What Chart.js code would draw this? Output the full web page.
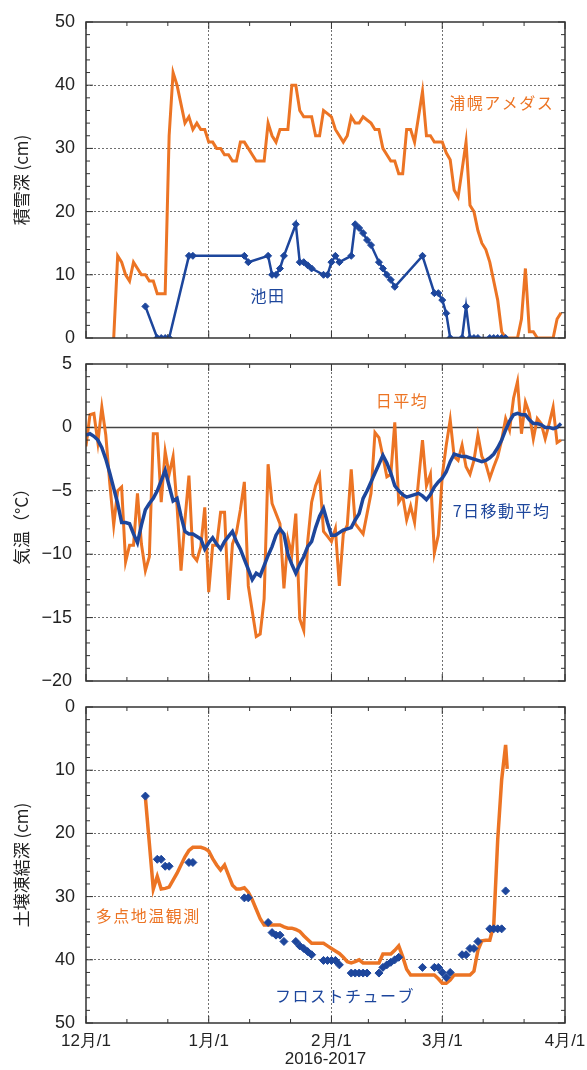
<!DOCTYPE html>
<html>
<head>
<meta charset="utf-8">
<script src="https://cdn.jsdelivr.net/npm/chart.js@4.4.1/dist/chart.umd.min.js"></script>
<style>
  html, body { margin: 0; padding: 0; background: #fff; }
  #wrap { position: relative; width: 587px; height: 1070px; }
  .panel { position: absolute; left: 0; width: 587px; }
</style>
</head>
<body>
<div id="wrap">
  <div class="panel" style="top:0;height:350px"><canvas id="snowChart"></canvas></div>
  <div class="panel" style="top:350px;height:345px"><canvas id="tempChart"></canvas></div>
  <div class="panel" style="top:695px;height:375px"><canvas id="frostChart"></canvas></div>
</div>
<script>
// x axis = days since 2016-12-01
const monthStarts = [0, 31, 62, 90, 121];
const monthLabels = ['12月/1', '1月/1', '2月/1', '3月/1', '4月/1'];

// 積雪深 (cm) 浦幌アメダス, one value per day (index = day)
const snowUrahoro = [
  null, null, null, null, null, null, null, 0, 13, 12,
  10, 9, 12, 11, 10, 10, 9, 9, 7, 7,
  7, 32, 42, 40, 37, 34, 35, 33, 34, 33,
  33, 31, 31, 30, 30, 29, 29, 28, 28, 31,
  31, 30, 29, 28, 28, 28, 34, 32, 31, 33,
  33, 33, 40, 40, 36, 35, 35, 35, 32, 32,
  36, 35.5, 35, 33, 32, 31, 32, 35, 34, 34,
  35, 34.5, 34, 33, 33, 30, 29, 28, 28, 26,
  26, 33, 33, 31, 35, 39, 32, 32, 31, 31,
  31, 29.3, 28.2, 23.4, 22.3, 26.6, 31, 21, 20, 17,
  15, 14, 12, 9, 6, 1, 0, 0, 0, 0,
  3, 11, 1, 1, 0, 0, 0, 0, 0, 3,
  4
];

// 積雪深 (cm) 池田
const ikedaDays = [15, 18, 19, 20, 21, 26, 27, 40, 41, 46, 47, 48, 49, 50, 53, 54, 55, 56, 57,
  60, 61, 62, 63, 64, 67, 68, 69, 70, 71, 72, 74, 75, 76, 77, 78, 85, 88, 89, 90, 91, 92,
  95, 96, 97, 98, 99, 102, 103, 104, 105, 106];
const ikedaSnow = [5, 0, 0, 0, 0, 13, 13, 13, 12, 13, 10, 10, 11, 13, 18, 12, 12, 11.5, 11,
  10, 10, 12, 13, 12, 13, 18, 17.4, 16.6, 15.5, 14.7, 12, 11, 10, 9.2, 8.1, 13, 7.1, 7.1, 6, 3.9, 0,
  0, 5, 0, 0, 0, 0, 0, 0, 0, 0];

// 気温 (°C) 日平均, one value per day
const tempDaily = [
  -1.5, 1.0, 1.1, -1.2, 1.6, -0.6, -4.4, -7.7, -5.0, -4.7,
  -10.6, -9.3, -9.3, -5.2, -9.2, -11.3, -10.2, -0.5, -0.5, -5.9,
  -1.9, -3.7, -2.3, -6.2, -11.3, -7.3, -3.8, -10.1, -10.5, -9.4,
  -6.3, -13.0, -9.3, -9.3, -6.7, -6.7, -13.6, -9.2, -8.3, -6.5,
  -4.3, -12.5, -14.5, -16.5, -16.3, -13.5, -2.9, -6.0, -6.8, -7.6,
  -12.7, -8.8, -10.0, -6.8, -15.1, -16.0, -9.0, -5.9, -4.6, -3.8,
  -8.2, -8.6, -9.0, -8.0, -12.5, -8.4, -7.7, -3.3, -7.6, -8.0,
  -8.4, -6.8, -5.2, -0.4, -0.8, -2.3, -3.9, -3.7, 0.4, -5.9,
  -5.4, -7.3, -6.2, -7.5, -4.2, -1.0, -4.6, -3.7, -9.9, -8.5,
  -3.8, -1.4, 0.6, -2.3, -2.6, -1.4, -3.1, -3.7, -2.6, -0.6,
  -2.3, -2.9, -4.0, -3.1, -2.3, -1.0, 0.7, -0.2, 2.3, 3.6,
  -0.5, 2.0, 1.1, -0.9, 0.7, 0.3, -0.9, 0.3, 1.6, -1.2,
  -1.0
];

// 気温 (°C) 7日移動平均
const temp7day = [
  -0.6, -0.5, -0.7, -1.0, -1.6, -2.5, -3.6, -4.8, -6.0, -7.5,
  -7.5, -7.6, -8.4, -9.1, -7.7, -6.5, -6.0, -5.6, -5.0, -4.2,
  -3.4, -4.6, -5.8, -5.6, -7.0, -8.2, -8.4, -8.4, -8.6, -8.8,
  -9.6, -9.1, -8.7, -9.2, -9.6, -9.0, -8.6, -8.2, -9.0, -9.6,
  -10.4, -11.2, -12.0, -11.5, -11.7, -10.9, -10.1, -9.4, -8.5, -8.0,
  -8.4, -10.0, -10.8, -11.5, -10.8, -10.2, -9.4, -9.0, -7.9, -7.0,
  -6.4, -7.5, -8.5, -8.5, -8.3, -8.1, -8.0, -7.9, -7.3, -6.8,
  -5.6, -5.0, -4.3, -3.6, -2.9, -2.2, -2.8, -3.6, -4.6, -5.0,
  -5.3, -5.5, -5.4, -5.3, -5.2, -5.4, -5.7, -5.3, -4.7, -4.3,
  -4.0, -3.5, -2.7, -2.1, -2.2, -2.3, -2.3, -2.4, -2.5, -2.6,
  -2.7, -2.6, -2.4, -2.1, -1.6, -1.0, -0.2, 0.5, 1.0, 1.1,
  1.0, 1.0, 0.6, 0.3, 0.3, 0.2, 0.0, 0.0, -0.1, 0.0,
  0.3
];

// 土壌凍結深 (cm) 多点地温観測
const soilDays = [15, 17, 18, 19, 20, 21, 22, 23, 24, 25, 26, 27, 28, 29, 30, 31, 32, 33, 34, 35,
  36, 37, 38, 39, 40, 41, 42, 43, 44, 45, 46, 47, 48, 49, 50, 51, 52, 53, 54, 55,
  56, 57, 58, 59, 60, 61, 62, 63, 64, 65, 66, 67, 68, 69, 70, 71, 72, 73, 74, 75,
  76, 77, 78, 79, 80, 81, 82, 83, 84, 85, 86, 87, 88, 89, 90, 91, 92, 93, 94, 95,
  96, 97, 98, 99, 100, 101, 102, 103, 104, 105, 106, 106.4];
const soilDepth = [14.3, 28.8, 26.8, 28.8, 28.7, 28.5, 27.4, 26.3, 25.0, 23.7, 22.7, 22.2, 22.2, 22.2, 22.4, 22.8, 24.0, 25.0, 25.8, 25.0,
  26.6, 28.2, 28.8, 28.8, 28.6, 29.3, 30.5, 32.0, 33.5, 34.5, 34.5, 34.5, 34.5, 34.5, 34.8, 35.0, 35.0, 35.2, 35.5, 36.2,
  36.8, 37.4, 37.4, 37.4, 37.4, 37.8, 38.2, 38.6, 39.0, 39.6, 40.3, 40.5, 40.3, 40.0, 40.5, 40.5, 40.5, 40.5, 40.5, 39.1,
  39.1, 39.1, 38.5, 37.8, 39.5, 41.5, 42.4, 42.4, 42.4, 42.4, 42.4, 42.4, 42.4, 43.0, 43.7, 43.7, 43.2, 42.4, 42.4, 42.4,
  42.4, 42.4, 41.8, 38.5, 37.0, 36.9, 36.9, 34.5, 21.0, 11.5, 6.0, 9.8];

// 土壌凍結深 (cm) フロストチューブ
const tubeDays = [15, 18, 19, 20, 21, 26, 27, 40, 41, 46, 47, 48, 49, 50, 53, 54, 55, 56, 57,
  60, 61, 62, 63, 64, 67, 68, 69, 70, 71, 74, 75, 76, 77, 78, 79, 85, 88, 89, 90, 91, 92,
  95, 96, 97, 98, 99, 102, 103, 104, 105, 106];
const tubeDepth = [14.1, 24.1, 24.1, 25.2, 25.2, 24.6, 24.6, 30.2, 30.2, 34.1, 35.7, 36.1, 36.1, 37.1, 37.1, 37.8, 38.2, 38.7, 39.2,
  40.1, 40.1, 40.1, 40.1, 40.8, 42.1, 42.1, 42.1, 42.1, 42.1, 42.1, 41.2, 40.8, 40.4, 40.0, 39.6, 41.2, 41.2, 41.2, 42.0, 42.8, 42.0,
  39.2, 39.2, 38.2, 38.2, 37.1, 35.1, 35.1, 35.1, 35.1, 29.1];

const ORANGE = '#ec7424';
const BLUE = '#1d469c';
const GRID = '#707070';
const FRAME = '#333';
const NUM_FONT = 'Liberation Sans, Arial, sans-serif';
const JP_FONT = 'Noto Sans CJK JP, sans-serif';

// month starts plus thirds of each month for the small ticks
const xTickValues = [];
for (let i = 0; i < monthStarts.length - 1; i++) {
  const len = monthStarts[i + 1] - monthStarts[i];
  xTickValues.push(monthStarts[i], monthStarts[i] + len / 3, monthStarts[i] + 2 * len / 3);
}
xTickValues.push(monthStarts[monthStarts.length - 1]);

const pairs = (xs, ys) => xs.map((x, i) => ({ x: x, y: ys[i] }));
const daily = ys => ys.map((y, i) => ({ x: i, y: y }));
const fmtNum = v => (v < 0 ? '\u2212' + (-v) : String(v));

// frame, inward tick marks, zero line and text labels
const decorPlugin = {
  id: 'decor',
  beforeDatasetsDraw(chart, args, opts) {
    if (!opts.zeroLine) return;
    const { ctx, chartArea: a, scales: { y } } = chart;
    const py = y.getPixelForValue(0);
    ctx.save();
    ctx.strokeStyle = '#444';
    ctx.lineWidth = 1.5;
    ctx.beginPath();
    ctx.moveTo(a.left, py);
    ctx.lineTo(a.right, py);
    ctx.stroke();
    ctx.restore();
  },
  afterDatasetsDraw(chart, args, opts) {
    const { ctx, chartArea: a, scales: { x, y } } = chart;
    ctx.save();
    ctx.strokeStyle = FRAME;
    ctx.lineWidth = 1;
    y.ticks.forEach(t => {
      const py = y.getPixelForValue(t.value);
      const len = t.value % opts.yMajor === 0 ? 7 : 4;
      ctx.beginPath();
      ctx.moveTo(a.left, py); ctx.lineTo(a.left + len, py);
      ctx.moveTo(a.right, py); ctx.lineTo(a.right - len, py);
      ctx.stroke();
    });
    x.ticks.forEach(t => {
      const px = x.getPixelForValue(t.value);
      const len = monthStarts.includes(t.value) ? 7 : 4;
      ctx.beginPath();
      ctx.moveTo(px, a.top); ctx.lineTo(px, a.top + len);
      ctx.moveTo(px, a.bottom); ctx.lineTo(px, a.bottom - len);
      ctx.stroke();
    });
    ctx.lineWidth = 1.5;
    ctx.strokeRect(a.left, a.top, a.right - a.left, a.bottom - a.top);

    (opts.labels || []).forEach(l => {
      ctx.font = '16px ' + JP_FONT;
      ctx.fillStyle = l.color;
      ctx.textAlign = 'center';
      ctx.textBaseline = 'middle';
      ctx.letterSpacing = '1.5px';
      ctx.fillText(l.text, x.getPixelForValue(l.x), y.getPixelForValue(l.y));
    });
    ctx.restore();
  }
};

function xScale(showLabels) {
  return {
    type: 'linear',
    min: 0,
    max: 121,
    afterBuildTicks: s => { s.ticks = xTickValues.map(v => ({ value: v })); },
    afterFit: s => {
      s.height = showLabels ? 47 : 0;
      s.paddingLeft = 0;
      s.paddingRight = 0;
    },
    grid: {
      drawTicks: false,
      lineWidth: 1,
      color: c => (monthStarts.includes(c.tick.value) && c.tick.value > 0 && c.tick.value < 121) ? GRID : 'transparent'
    },
    border: { display: false, dash: [2, 2] },
    ticks: {
      display: showLabels,
      autoSkip: false,
      maxRotation: 0,
      padding: 8,
      color: '#222',
      font: { family: NUM_FONT, size: 17 },
      callback: v => {
        const i = monthStarts.indexOf(v);
        return i >= 0 ? monthLabels[i] : '';
      }
    },
    title: {
      display: showLabels,
      text: '2016-2017',
      color: '#222',
      font: { family: NUM_FONT, size: 17 },
      padding: { top: 0, bottom: 0 }
    }
  };
}

function yScale(opt) {
  return {
    type: 'linear',
    min: opt.min,
    max: opt.max,
    reverse: !!opt.reverse,
    afterFit: s => {
      s.width = 86;
      s.paddingTop = 0;
      s.paddingBottom = 0;
    },
    grid: {
      drawTicks: false,
      lineWidth: 1,
      color: c => (c.tick.value % opt.major === 0 && c.tick.value !== opt.min && c.tick.value !== opt.max) ? GRID : 'transparent'
    },
    border: { display: false, dash: [2, 2] },
    ticks: {
      stepSize: opt.step,
      autoSkip: false,
      padding: opt.pad,
      color: '#222',
      font: { family: NUM_FONT, size: 18 },
      callback: v => (v % opt.major === 0 ? fmtNum(v) : '')
    },
    title: {
      display: true,
      text: opt.title,
      color: '#222',
      font: { family: JP_FONT, size: 17 },
      padding: { top: 11, bottom: 0 }
    }
  };
}

function baseOptions(padding, scales, decor) {
  return {
    responsive: true,
    maintainAspectRatio: false,
    animation: false,
    events: [],
    layout: { padding: padding },
    plugins: {
      legend: { display: false },
      tooltip: { enabled: false },
      decor: decor
    },
    scales: scales
  };
}

// 1. 積雪深
new Chart(document.getElementById('snowChart'), {
  type: 'line',
  data: {
    datasets: [
      {
        label: '池田',
        data: pairs(ikedaDays, ikedaSnow),
        borderColor: BLUE,
        backgroundColor: BLUE,
        borderWidth: 2.5,
        pointStyle: 'rectRot',
        pointRadius: 3.5,
        pointBorderWidth: 1,
        tension: 0
      },
      {
        label: '浦幌アメダス',
        data: daily(snowUrahoro),
        borderColor: ORANGE,
        borderWidth: 3,
        pointRadius: 0,
        tension: 0
      }
    ]
  },
  options: baseOptions(
    { top: 22, right: 22, bottom: 12, left: 0 },
    { x: xScale(false), y: yScale({ min: 0, max: 50, step: 2, major: 10, pad: 11, title: '積雪深 (cm)' }) },
    {
      yMajor: 10,
      labels: [
        { text: '浦幌アメダス', x: 105, y: 37.2, color: ORANGE },
        { text: '池田', x: 46, y: 6.6, color: BLUE }
      ]
    }
  ),
  plugins: [decorPlugin]
});

// 2. 気温
new Chart(document.getElementById('tempChart'), {
  type: 'line',
  data: {
    datasets: [
      {
        label: '7日移動平均',
        data: daily(temp7day),
        borderColor: BLUE,
        borderWidth: 3.5,
        pointRadius: 0,
        tension: 0
      },
      {
        label: '日平均',
        data: daily(tempDaily),
        borderColor: ORANGE,
        borderWidth: 3,
        pointRadius: 0,
        tension: 0
      }
    ]
  },
  options: baseOptions(
    { top: 14, right: 22, bottom: 14, left: 0 },
    { x: xScale(false), y: yScale({ min: -20, max: 5, step: 1, major: 5, pad: 14, title: '気温（°C）' }) },
    {
      yMajor: 5,
      zeroLine: true,
      labels: [
        { text: '日平均', x: 79.8, y: 2.05, color: ORANGE },
        { text: '7日移動平均', x: 105, y: -6.55, color: BLUE }
      ]
    }
  ),
  plugins: [decorPlugin]
});

// 3. 土壌凍結深
new Chart(document.getElementById('frostChart'), {
  type: 'line',
  data: {
    datasets: [
      {
        label: 'フロストチューブ',
        data: pairs(tubeDays, tubeDepth),
        showLine: false,
        borderColor: BLUE,
        backgroundColor: BLUE,
        pointStyle: 'rectRot',
        pointRadius: 4,
        pointBorderWidth: 1
      },
      {
        label: '多点地温観測',
        data: pairs(soilDays, soilDepth),
        borderColor: ORANGE,
        borderWidth: 3.5,
        pointRadius: 0,
        tension: 0
      }
    ]
  },
  options: baseOptions(
    { top: 12, right: 22, bottom: 0, left: 0 },
    { x: xScale(true), y: yScale({ min: 0, max: 50, step: 2, major: 10, pad: 11, reverse: true, title: '土壌凍結深 (cm)' }) },
    {
      yMajor: 10,
      labels: [
        { text: '多点地温観測', x: 15.7, y: 33.1, color: ORANGE },
        { text: 'フロストチューブ', x: 65.4, y: 45.7, color: BLUE }
      ]
    }
  ),
  plugins: [decorPlugin]
});
</script>
</body>
</html>
